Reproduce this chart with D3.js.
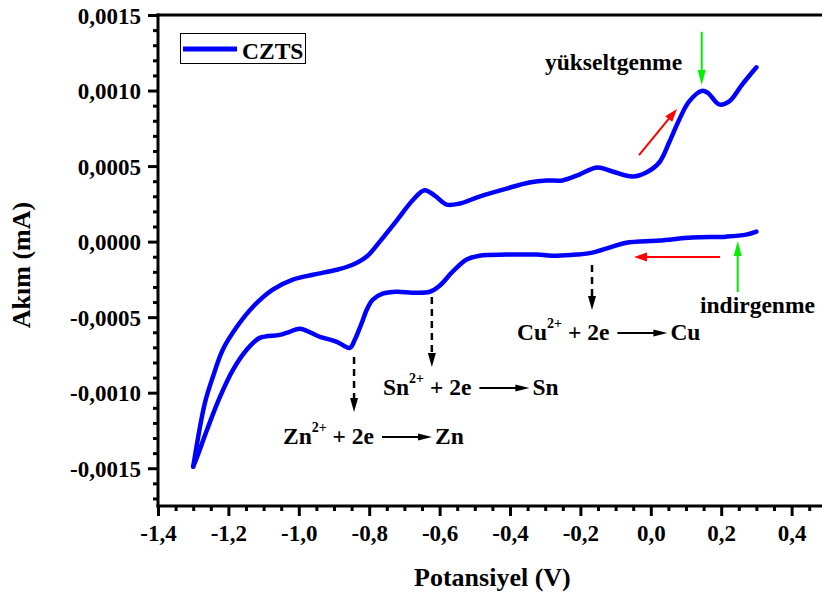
<!DOCTYPE html>
<html>
<head>
<meta charset="utf-8">
<script src="https://cdn.jsdelivr.net/npm/d3@7"></script>
<style>
  html, body { margin: 0; padding: 0; background: #fff; }
  svg { display: block; }
  text { font-family: "Liberation Serif", "Times New Roman", serif; font-weight: bold; fill: #000; }
</style>
</head>
<body>
<svg id="chart" width="822" height="593"></svg>
<script>
// Cyclic voltammogram of the CZTS bath: anodic sweep (-1,3 V -> 0,3 V)
const anodicPotential = [-1.300, -1.267, -1.244, -1.216, -1.176, -1.130, -1.074, -1.017, -0.960, -0.892,
  -0.847, -0.807, -0.770, -0.722, -0.677, -0.643, -0.614, -0.580, -0.543, -0.487,
  -0.410, -0.345, -0.296, -0.251, -0.203, -0.152, -0.109, -0.052, -0.013, 0.024,
  0.052, 0.081, 0.109, 0.145, 0.162, 0.194, 0.223, 0.260, 0.300];
const anodicCurrent = [-0.001490, -0.001070, -0.000895, -0.000716, -0.000564, -0.000431, -0.000318, -0.000252, -0.000219, -0.000186,
  -0.000153, -0.000099, 0.000000, 0.000139, 0.000272, 0.000340, 0.000305, 0.000245, 0.000252, 0.000298,
  0.000351, 0.000391, 0.000405, 0.000405, 0.000444, 0.000491, 0.000464, 0.000431, 0.000458, 0.000524,
  0.000656, 0.000809, 0.000928, 0.000998, 0.000985, 0.000908, 0.000928, 0.001041, 0.001154];

// Cathodic sweep (0,3 V -> -1,3 V)
const cathodicPotential = [0.300, 0.271, 0.214, 0.118, 0.024, -0.070, -0.118, -0.166, -0.211, -0.268,
  -0.325, -0.410, -0.487, -0.523, -0.563, -0.600, -0.628, -0.677, -0.722, -0.762,
  -0.790, -0.807, -0.821, -0.841, -0.855, -0.892, -0.940, -0.997, -1.026, -1.054,
  -1.111, -1.148, -1.187, -1.224, -1.261, -1.289, -1.300];
const cathodicCurrent = [0.000066, 0.000046, 0.000033, 0.000027, 0.000007, -0.000007, -0.000040, -0.000073, -0.000086, -0.000093,
  -0.000086, -0.000086, -0.000093, -0.000119, -0.000199, -0.000292, -0.000332, -0.000338, -0.000332, -0.000345,
  -0.000385, -0.000451, -0.000537, -0.000650, -0.000703, -0.000663, -0.000630, -0.000577, -0.000597, -0.000617,
  -0.000637, -0.000716, -0.000849, -0.001028, -0.001247, -0.001426, -0.001490];

// Axis ticks
const xTicks = [-1.4, -1.2, -1.0, -0.8, -0.6, -0.4, -0.2, 0.0, 0.2, 0.4];
const xTickLabels = ["-1,4", "-1,2", "-1,0", "-0,8", "-0,6", "-0,4", "-0,2", "0,0", "0,2", "0,4"];
const yTicks = [-0.0015, -0.0010, -0.0005, 0.0, 0.0005, 0.0010, 0.0015];
const yTickLabels = ["-0,0015", "-0,0010", "-0,0005", "0,0000", "0,0005", "0,0010", "0,0015"];

const seriesName = "CZTS";
const xTitle = "Potansiyel (V)";
const yTitle = "Akım (mA)";

// Reduction steps marked on the cathodic branch: [ion, product, arrow potential, arrow top, arrow tip, text potential, text baseline]
const reductions = [
  ["Zn", "Zn", -0.843, -0.000764, -0.001128, -1.045, -0.001339],
  ["Sn", "Sn", -0.622, -0.000367, -0.000830, -0.761, -0.001015],
  ["Cu", "Cu", -0.167, -0.000155, -0.000453, -0.380, -0.000651]
];

const svg = d3.select("#chart");
const W = 822, H = 593;
const BLUE = "#0000ff", RED = "#ff0000", GREEN = "#00ee00";
const FS = 23.5;            // annotation font size

const x = d3.scaleLinear().domain([-1.4, 0.5]).range([158, 158 + 1.9 * 352]);
const y = d3.scaleLinear().domain([-0.00175, 0.0015]).range([506, 15]);

const plotLeft = x(-1.4), plotTop = y(0.0015), plotBottom = y(-0.00175);

// ---- axes ----
const xMinor = d3.range(-1.4, 0.5001, 0.05).map(v => +v.toFixed(2)).filter(v => !xTicks.some(t => Math.abs(t - v) < 1e-6));
const yMinor = d3.range(-0.0017, 0.00151, 0.0001).map(v => +v.toFixed(5)).filter(v => !yTicks.some(t => Math.abs(t - v) < 1e-9));

const gx = svg.append("g").attr("transform", `translate(0,${plotBottom})`)
  .call(d3.axisBottom(x).tickValues(xMinor).tickSize(5).tickSizeOuter(0).tickFormat(""));
gx.selectAll(".tick line").attr("stroke", "#000").attr("stroke-width", 3);
const gxMaj = svg.append("g").attr("transform", `translate(0,${plotBottom})`)
  .call(d3.axisBottom(x).tickValues(xTicks).tickSize(10).tickSizeOuter(0).tickFormat((d, i) => xTickLabels[i]));
gxMaj.selectAll(".tick line").attr("stroke", "#000").attr("stroke-width", 3);
gxMaj.selectAll(".tick text")
  .attr("y", 35).attr("dy", null)
  .attr("font-size", 23).attr("font-family", null);

const gy = svg.append("g").attr("transform", `translate(${plotLeft},0)`)
  .call(d3.axisLeft(y).tickValues(yMinor).tickSize(5).tickSizeOuter(0).tickFormat(""));
gy.selectAll(".tick line").attr("stroke", "#000").attr("stroke-width", 3);
const gyMaj = svg.append("g").attr("transform", `translate(${plotLeft},0)`)
  .call(d3.axisLeft(y).tickValues(yTicks).tickSize(10).tickSizeOuter(0).tickFormat((d, i) => yTickLabels[i]));
gyMaj.selectAll(".tick line").attr("stroke", "#000").attr("stroke-width", 3);
gyMaj.selectAll(".tick text")
  .attr("x", -17).attr("dy", "0.35em")
  .attr("font-size", 23).attr("font-family", null);
svg.selectAll(".domain").remove();

// frame lines
svg.append("line").attr("x1", plotLeft).attr("x2", plotLeft).attr("y1", plotTop - 1.5).attr("y2", plotBottom + 1.5)
  .attr("stroke", "#000").attr("stroke-width", 3);
svg.append("line").attr("x1", plotLeft - 1.5).attr("x2", W).attr("y1", plotTop).attr("y2", plotTop)
  .attr("stroke", "#000").attr("stroke-width", 3);
svg.append("line").attr("x1", plotLeft - 1.5).attr("x2", W).attr("y1", plotBottom).attr("y2", plotBottom)
  .attr("stroke", "#000").attr("stroke-width", 3);

// axis titles
svg.append("text").attr("transform", `translate(${x(-0.45)},586)`)
  .attr("text-anchor", "middle").attr("font-size", 26).text(xTitle);
svg.append("text").attr("transform", `translate(30,265) rotate(-90)`)
  .attr("text-anchor", "middle").attr("font-size", 26).text(yTitle);

// ---- voltammogram ----
const line = d3.line().x(d => x(d[0])).y(d => y(d[1])).curve(d3.curveCatmullRom.alpha(0.5));
const anodic = anodicPotential.map((v, i) => [v, anodicCurrent[i]]);
const cathodic = cathodicPotential.map((v, i) => [v, cathodicCurrent[i]]);
[anodic, cathodic].forEach(pts => {
  svg.append("path").attr("d", line(pts)).attr("fill", "none").attr("stroke", BLUE)
    .attr("stroke-width", 4.5).attr("stroke-linecap", "round").attr("stroke-linejoin", "round");
});

// ---- helpers ----
function label(px, py, str, size, anchor) {
  return svg.append("text").attr("x", px).attr("y", py)
    .attr("text-anchor", anchor || "start").attr("font-size", size).text(str);
}
function arrow(x1, y1, x2, y2, color, width, headLen, headW, dash) {
  const dx = x2 - x1, dy = y2 - y1, len = Math.hypot(dx, dy);
  const ux = dx / len, uy = dy / len, nx = -uy, ny = ux;
  const bx = x2 - ux * headLen, by = y2 - uy * headLen;
  svg.append("line").attr("x1", x1).attr("y1", y1).attr("x2", bx + ux).attr("y2", by + uy)
    .attr("stroke", color).attr("stroke-width", width).attr("stroke-dasharray", dash || null);
  svg.append("path").attr("d", `M${x2},${y2}L${bx + nx * headW / 2},${by + ny * headW / 2}L${bx - nx * headW / 2},${by - ny * headW / 2}Z`)
    .attr("fill", color);
}

// ---- legend ----
svg.append("rect").attr("x", 180.5).attr("y", 33.5).attr("width", 125).attr("height", 30)
  .attr("fill", "#fff").attr("stroke", "#000").attr("stroke-width", 1);
svg.append("line").attr("x1", 183).attr("x2", 237).attr("y1", 49).attr("y2", 49)
  .attr("stroke", BLUE).attr("stroke-width", 5);
label(242, 59, seriesName, FS);

// ---- oxidation / reduction notes ----
label(x(-0.3006), y(0.001136), "yükseltgenme", FS);
arrow(x(0.1446), y(0.001389), x(0.1446), y(0.001036), GREEN, 2, 15, 8);
arrow(x(-0.0335), y(0.000573), x(0.0744), y(0.000878), RED, 2, 13, 9);
arrow(x(0.1966), y(-0.000102), x(-0.0477), y(-0.000102), RED, 2, 13, 9);
arrow(x(0.2469), y(-0.000334), x(0.2469), y(0.000004), GREEN, 2, 15, 8);
label(x(0.1398), y(-0.000473), "indirgenme", FS);

reductions.forEach(([ion, product, av, a1, a2, tv, tb]) => {
  arrow(x(av), y(a1), x(av), y(a2), "#000", 2.5, 14, 8, "7,5");
  const tx = x(tv), ty = y(tb);
  const t = svg.append("text").attr("x", tx).attr("y", ty).attr("font-size", FS);
  t.append("tspan").text(ion);
  t.append("tspan").attr("font-size", 14).attr("dy", -12).text("2+");
  t.append("tspan").attr("dy", 12).text(" + 2e");
  const w = t.node().getComputedTextLength();
  const ax1 = tx + w + 8, ax2 = ax1 + 50;
  arrow(ax1, ty - 7, ax2, ty - 7, "#000", 2, 14, 7);
  label(ax2 + 3, ty, product, FS);
});
</script>
</body>
</html>
